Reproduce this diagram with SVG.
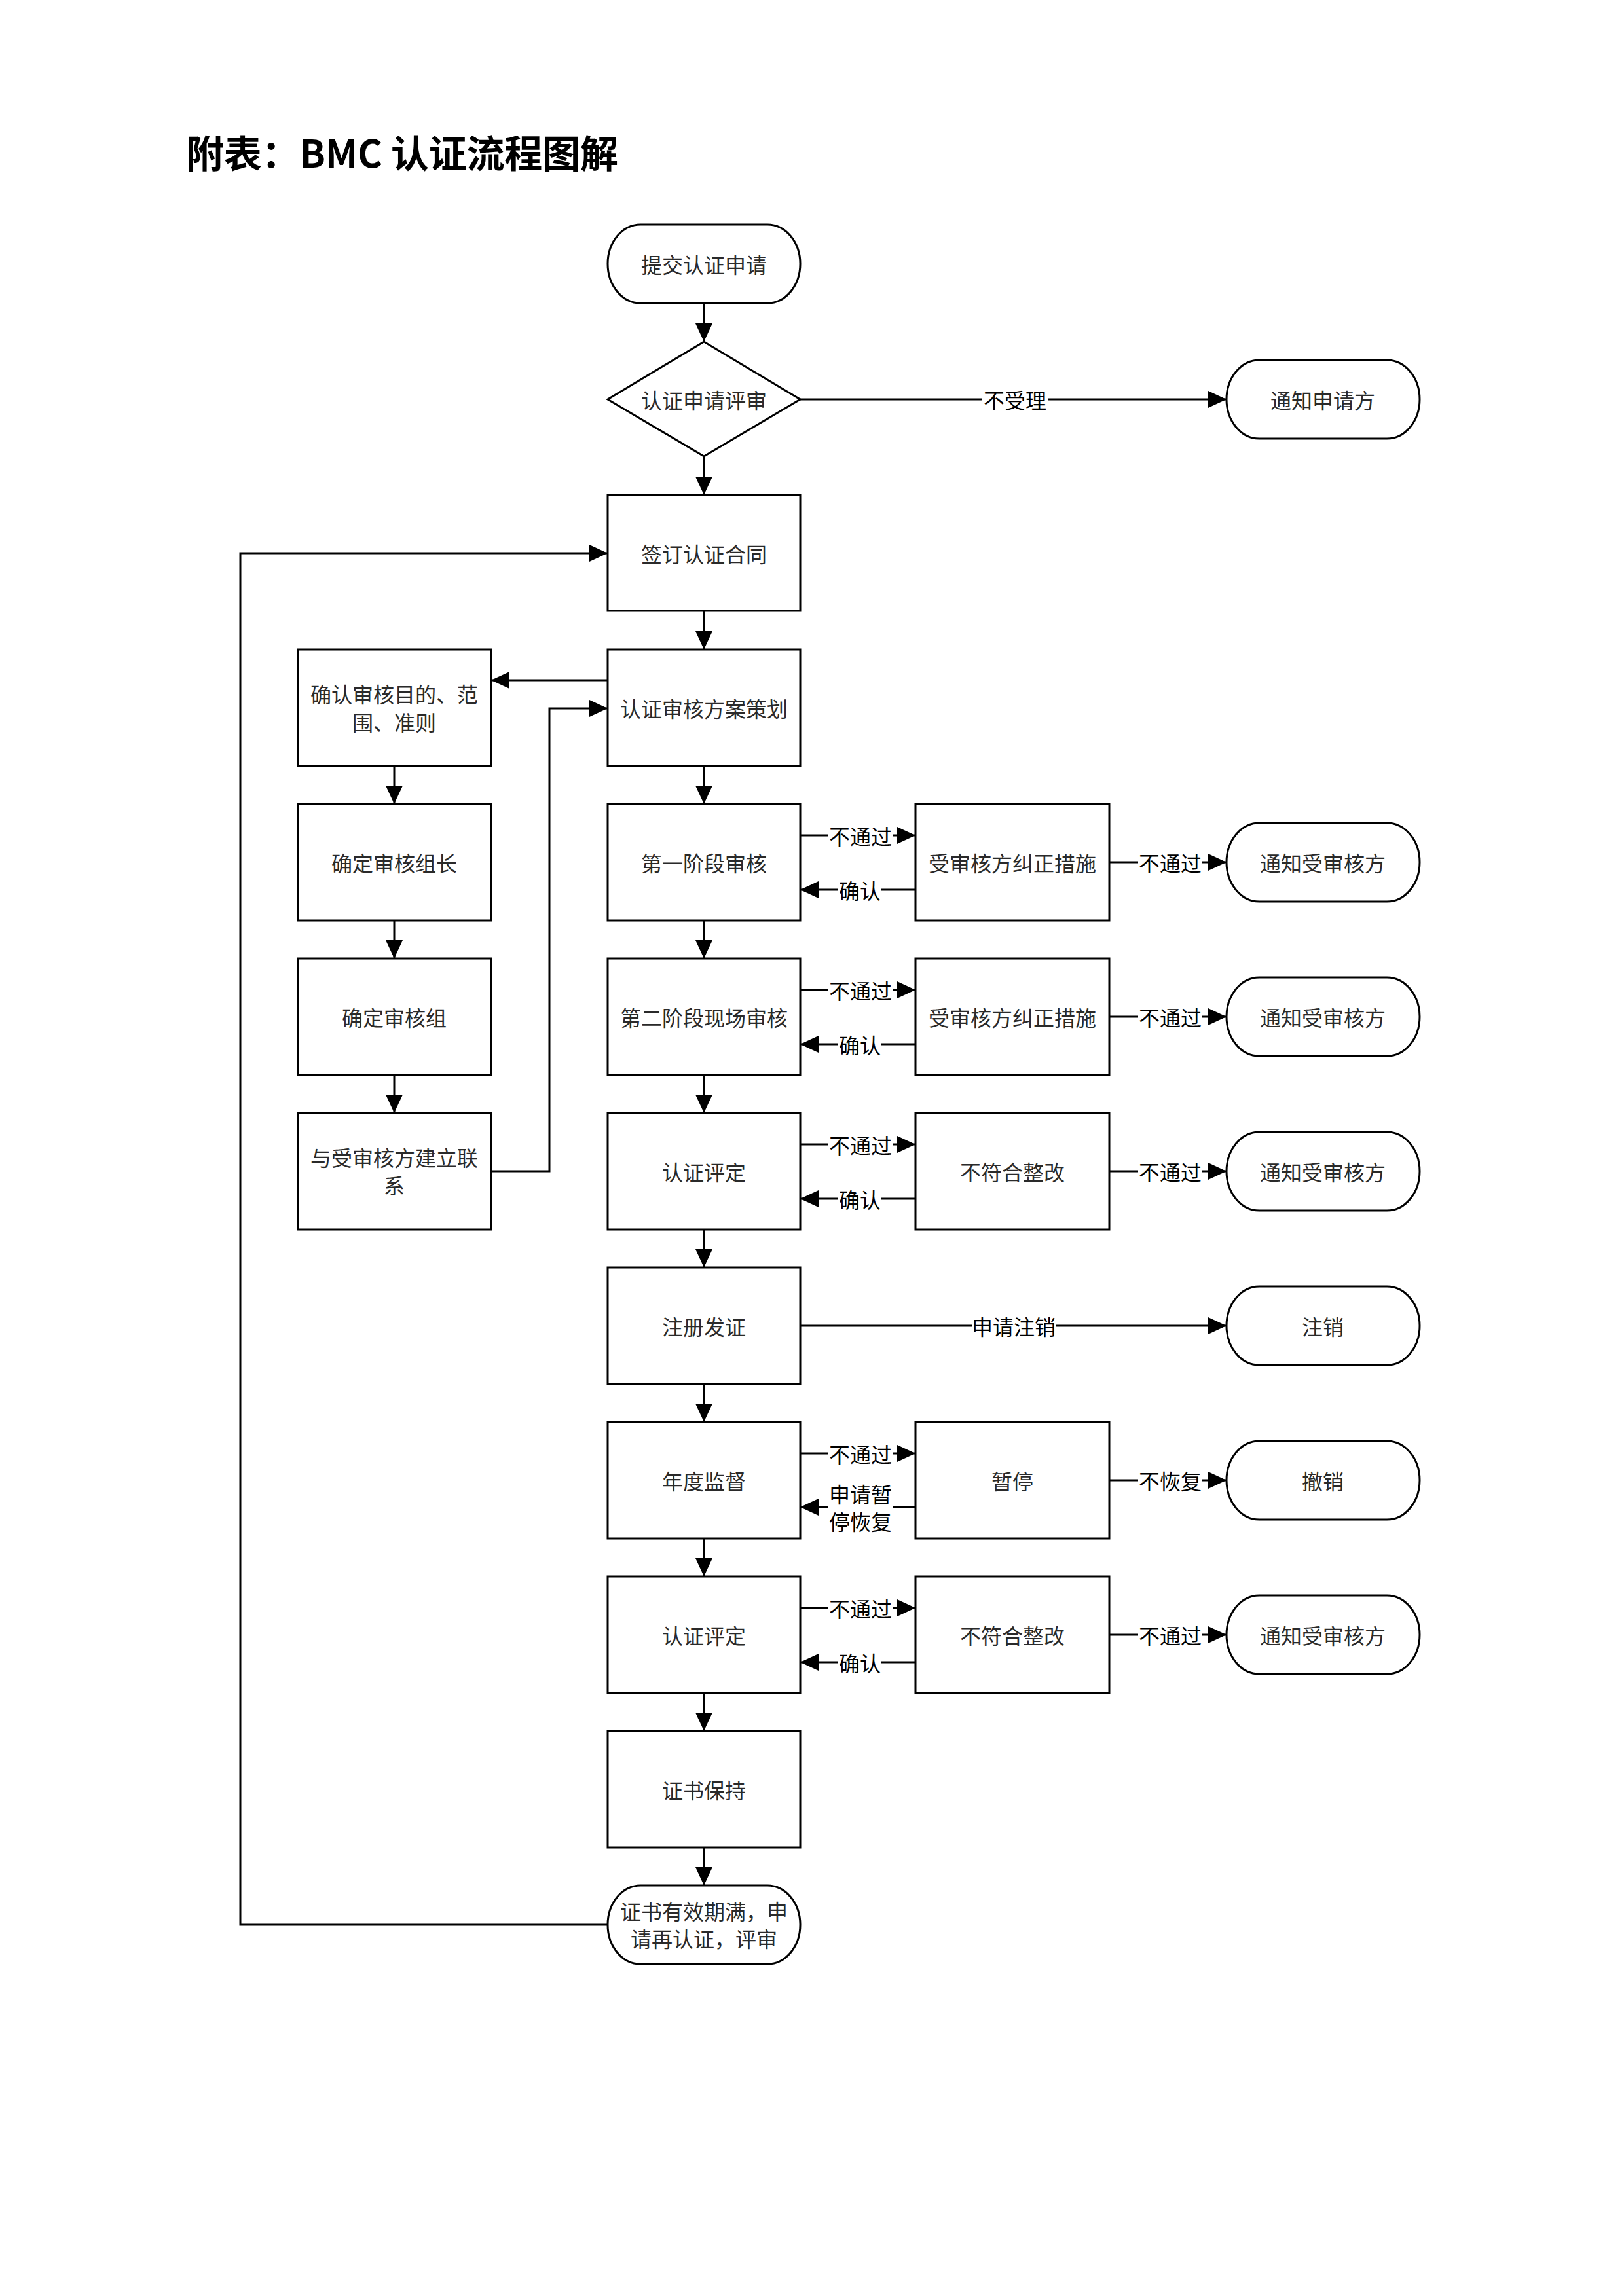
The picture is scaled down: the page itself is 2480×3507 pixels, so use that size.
<svg xmlns="http://www.w3.org/2000/svg" width="2480" height="3507" viewBox="0 0 2480 3507">
<defs>
<marker id="ah" markerUnits="userSpaceOnUse" markerWidth="30" markerHeight="28" refX="28" refY="13" orient="auto">
<path d="M0,0 L28,13 L0,26 z" fill="#000"/>
</marker>
<style>
.bx{fill:#fff;stroke:#000;stroke-width:3}
.t{font-family:"Noto Sans CJK SC","Noto Sans",sans-serif;font-size:32px;fill:#2a2a2a;text-anchor:middle;dominant-baseline:central}
.c{fill:none;stroke:#000;stroke-width:3;marker-end:url(#ah)}
.lb{fill:#fff}
.lt{font-family:"Noto Sans CJK SC","Noto Sans",sans-serif;font-size:32px;fill:#000;text-anchor:middle;dominant-baseline:central}
</style>
</defs>
<rect width="2480" height="3507" fill="#fff"/>
<text x="284" y="256" font-family="'Noto Sans CJK SC','Liberation Sans',sans-serif" font-size="58" font-weight="bold" fill="#000" textLength="660" lengthAdjust="spacing">附表：BMC 认证流程图解</text>

<g id="connectors">
<line class="c" x1="1075" y1="463" x2="1075" y2="522"/>
<line class="c" x1="1075" y1="697" x2="1075" y2="756"/>
<line class="c" x1="1075" y1="933" x2="1075" y2="992"/>
<line class="c" x1="1075" y1="1170" x2="1075" y2="1228"/>
<line class="c" x1="1075" y1="1406" x2="1075" y2="1464"/>
<line class="c" x1="1075" y1="1642" x2="1075" y2="1700"/>
<line class="c" x1="1075" y1="1878" x2="1075" y2="1936"/>
<line class="c" x1="1075" y1="2114" x2="1075" y2="2172"/>
<line class="c" x1="1075" y1="2350" x2="1075" y2="2408"/>
<line class="c" x1="1075" y1="2586" x2="1075" y2="2644"/>
<line class="c" x1="1075" y1="2822" x2="1075" y2="2880"/>
<line class="c" x1="602" y1="1170" x2="602" y2="1228"/>
<line class="c" x1="602" y1="1406" x2="602" y2="1464"/>
<line class="c" x1="602" y1="1642" x2="602" y2="1700"/>
<line class="c" x1="928" y1="1039" x2="750" y2="1039"/>
<path class="c" d="M750 1789 L839 1789 L839 1082 L928 1082"/>
<path class="c" d="M928 2940 L367 2940 L367 845 L928 845"/>
<line class="c" x1="1222" y1="610" x2="1873" y2="610"/>
<line class="c" x1="1222" y1="2025" x2="1873" y2="2025"/>
<line class="c" x1="1222" y1="1276" x2="1398" y2="1276"/>
<line class="c" x1="1398" y1="1359" x2="1222" y2="1359"/>
<line class="c" x1="1694" y1="1317" x2="1873" y2="1317"/>
<line class="c" x1="1222" y1="1512" x2="1398" y2="1512"/>
<line class="c" x1="1398" y1="1595" x2="1222" y2="1595"/>
<line class="c" x1="1694" y1="1553" x2="1873" y2="1553"/>
<line class="c" x1="1222" y1="1748" x2="1398" y2="1748"/>
<line class="c" x1="1398" y1="1831" x2="1222" y2="1831"/>
<line class="c" x1="1694" y1="1789" x2="1873" y2="1789"/>
<line class="c" x1="1222" y1="2220" x2="1398" y2="2220"/>
<line class="c" x1="1398" y1="2302" x2="1222" y2="2302"/>
<line class="c" x1="1694" y1="2261" x2="1873" y2="2261"/>
<line class="c" x1="1222" y1="2456" x2="1398" y2="2456"/>
<line class="c" x1="1398" y1="2539" x2="1222" y2="2539"/>
<line class="c" x1="1694" y1="2497" x2="1873" y2="2497"/>
<rect class="lb" x="1500" y="588" width="100" height="44"/><text class="lt" x="1550" y="610">不受理</text>
<rect class="lb" x="1484" y="2003" width="128" height="44"/><text class="lt" x="1548" y="2025">申请注销</text>
<rect class="lb" x="1265" y="1254" width="98" height="44"/><text class="lt" x="1314" y="1276">不通过</text>
<rect class="lb" x="1280" y="1337" width="66" height="44"/><text class="lt" x="1313" y="1359">确认</text>
<rect class="lb" x="1738" y="1295" width="98" height="44"/><text class="lt" x="1787" y="1317">不通过</text>
<rect class="lb" x="1265" y="1490" width="98" height="44"/><text class="lt" x="1314" y="1512">不通过</text>
<rect class="lb" x="1280" y="1573" width="66" height="44"/><text class="lt" x="1313" y="1595">确认</text>
<rect class="lb" x="1738" y="1531" width="98" height="44"/><text class="lt" x="1787" y="1553">不通过</text>
<rect class="lb" x="1265" y="1726" width="98" height="44"/><text class="lt" x="1314" y="1748">不通过</text>
<rect class="lb" x="1280" y="1809" width="66" height="44"/><text class="lt" x="1313" y="1831">确认</text>
<rect class="lb" x="1738" y="1767" width="98" height="44"/><text class="lt" x="1787" y="1789">不通过</text>
<rect class="lb" x="1265" y="2198" width="98" height="44"/><text class="lt" x="1314" y="2220">不通过</text>
<rect class="lb" x="1265" y="2260" width="98" height="86"/><text class="lt" x="1314" y="2281">申请暂</text><text class="lt" x="1314" y="2323">停恢复</text>
<rect class="lb" x="1738" y="2239" width="98" height="44"/><text class="lt" x="1787" y="2261">不恢复</text>
<rect class="lb" x="1265" y="2434" width="98" height="44"/><text class="lt" x="1314" y="2456">不通过</text>
<rect class="lb" x="1280" y="2517" width="66" height="44"/><text class="lt" x="1313" y="2539">确认</text>
<rect class="lb" x="1738" y="2475" width="98" height="44"/><text class="lt" x="1787" y="2497">不通过</text>
</g>

<g id="n-submit"><rect class="bx" x="928" y="343" width="294" height="120" rx="50" ry="60"/><text class="t" x="1075" y="403">提交认证申请</text></g>
<g id="n-review"><polygon class="bx" points="1075,522 1222,610 1075,697 928,610"/><text class="t" x="1075" y="610">认证申请评审</text></g>
<g id="n-notify-applicant"><rect class="bx" x="1873" y="550" width="295" height="120" rx="50" ry="60"/><text class="t" x="2020" y="610">通知申请方</text></g>
<g id="n-contract"><rect class="bx" x="928" y="756" width="294" height="177"/><text class="t" x="1075" y="845">签订认证合同</text></g>
<g id="n-plan"><rect class="bx" x="928" y="992" width="294" height="178"/><text class="t" x="1075" y="1081">认证审核方案策划</text></g>
<g id="n-confirm-scope"><rect class="bx" x="455" y="992" width="295" height="178"/><text class="t" x="602" y="1059">确认审核目的、范</text><text class="t" x="602" y="1102">围、准则</text></g>
<g id="n-leader"><rect class="bx" x="455" y="1228" width="295" height="178"/><text class="t" x="602" y="1317">确定审核组长</text></g>
<g id="n-team"><rect class="bx" x="455" y="1464" width="295" height="178"/><text class="t" x="602" y="1553">确定审核组</text></g>
<g id="n-contact"><rect class="bx" x="455" y="1700" width="295" height="178"/><text class="t" x="602" y="1767">与受审核方建立联</text><text class="t" x="602" y="1809">系</text></g>
<g id="n-stage1"><rect class="bx" x="928" y="1228" width="294" height="178"/><text class="t" x="1075" y="1317">第一阶段审核</text></g>
<g id="n-corr1"><rect class="bx" x="1398" y="1228" width="296" height="178"/><text class="t" x="1546" y="1317">受审核方纠正措施</text></g>
<g id="n-notify1"><rect class="bx" x="1873" y="1257" width="295" height="120" rx="50" ry="60"/><text class="t" x="2020" y="1317">通知受审核方</text></g>
<g id="n-stage2"><rect class="bx" x="928" y="1464" width="294" height="178"/><text class="t" x="1075" y="1553">第二阶段现场审核</text></g>
<g id="n-corr2"><rect class="bx" x="1398" y="1464" width="296" height="178"/><text class="t" x="1546" y="1553">受审核方纠正措施</text></g>
<g id="n-notify2"><rect class="bx" x="1873" y="1493" width="295" height="120" rx="50" ry="60"/><text class="t" x="2020" y="1553">通知受审核方</text></g>
<g id="n-eval1"><rect class="bx" x="928" y="1700" width="294" height="178"/><text class="t" x="1075" y="1789">认证评定</text></g>
<g id="n-fix1"><rect class="bx" x="1398" y="1700" width="296" height="178"/><text class="t" x="1546" y="1789">不符合整改</text></g>
<g id="n-notify3"><rect class="bx" x="1873" y="1729" width="295" height="120" rx="50" ry="60"/><text class="t" x="2020" y="1789">通知受审核方</text></g>
<g id="n-register"><rect class="bx" x="928" y="1936" width="294" height="178"/><text class="t" x="1075" y="2025">注册发证</text></g>
<g id="n-cancel"><rect class="bx" x="1873" y="1965" width="295" height="120" rx="50" ry="60"/><text class="t" x="2020" y="2025">注销</text></g>
<g id="n-annual"><rect class="bx" x="928" y="2172" width="294" height="178"/><text class="t" x="1075" y="2261">年度监督</text></g>
<g id="n-suspend"><rect class="bx" x="1398" y="2172" width="296" height="178"/><text class="t" x="1546" y="2261">暂停</text></g>
<g id="n-revoke"><rect class="bx" x="1873" y="2201" width="295" height="120" rx="50" ry="60"/><text class="t" x="2020" y="2261">撤销</text></g>
<g id="n-eval2"><rect class="bx" x="928" y="2408" width="294" height="178"/><text class="t" x="1075" y="2497">认证评定</text></g>
<g id="n-fix2"><rect class="bx" x="1398" y="2408" width="296" height="178"/><text class="t" x="1546" y="2497">不符合整改</text></g>
<g id="n-notify4"><rect class="bx" x="1873" y="2437" width="295" height="120" rx="50" ry="60"/><text class="t" x="2020" y="2497">通知受审核方</text></g>
<g id="n-maintain"><rect class="bx" x="928" y="2644" width="294" height="178"/><text class="t" x="1075" y="2733">证书保持</text></g>
<g id="n-renew"><rect class="bx" x="928" y="2880" width="294" height="120" rx="50" ry="60"/><text class="t" x="1075" y="2918">证书有效期满，申</text><text class="t" x="1075" y="2960">请再认证，评审</text></g>
</svg>
